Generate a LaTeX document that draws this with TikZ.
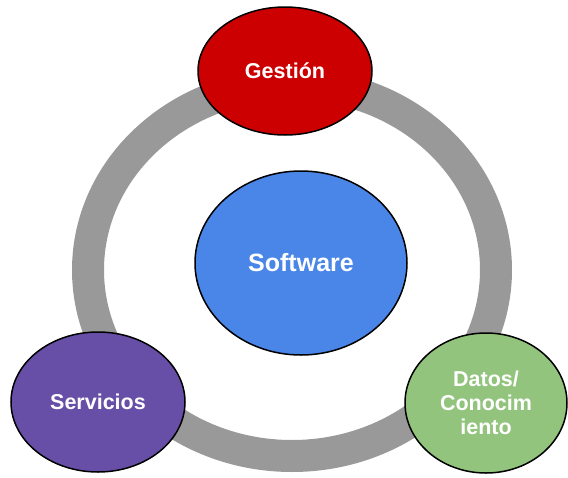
\documentclass[tikz,border=0pt]{standalone}
\usepackage{fontspec}
\setmainfont{Liberation Sans}
\usepackage{tikz}
\usetikzlibrary{shapes.geometric}
\definecolor{gestred}{HTML}{CC0000}
\definecolor{softblue}{HTML}{4A86E8}
\definecolor{servpurple}{HTML}{674EA7}
\definecolor{datgreen}{HTML}{93C47D}
\definecolor{ringgray}{HTML}{999999}

\begin{document}
\begin{tikzpicture}[x=1pt, y=-1pt,
      blob/.style={ellipse, draw=black, line width=1.5pt, text=white,
        align=center, inner sep=0pt,
        font=\fontsize{21.5}{24}\selectfont\bfseries},
      big/.style={font=\fontsize{25}{28}\selectfont\bfseries}]
      \useasboundingbox (0,0) rectangle (568,477);
      \coordinate (hub) at (292,270);
      \draw[ringgray, line width=32pt] (hub) ellipse [x radius=204pt, y radius=186pt];
      \node[blob, fill=gestred, minimum width=174pt, minimum height=128pt] (gestion) at (285,71) {Gestión};
      \node[blob, big, fill=softblue, minimum width=212pt, minimum height=184pt] (software) at (301,263) {Software};
      \node[blob, fill=servpurple, minimum width=174pt, minimum height=140pt] (servicios) at (98,402) {Servicios};
      \node[blob, fill=datgreen, minimum width=162pt, minimum height=140pt] (datos) at (486,403) {Datos/\\Conocim\\iento};
      % \draw (gestion) -- (software);
    \end{tikzpicture}
\end{document}
